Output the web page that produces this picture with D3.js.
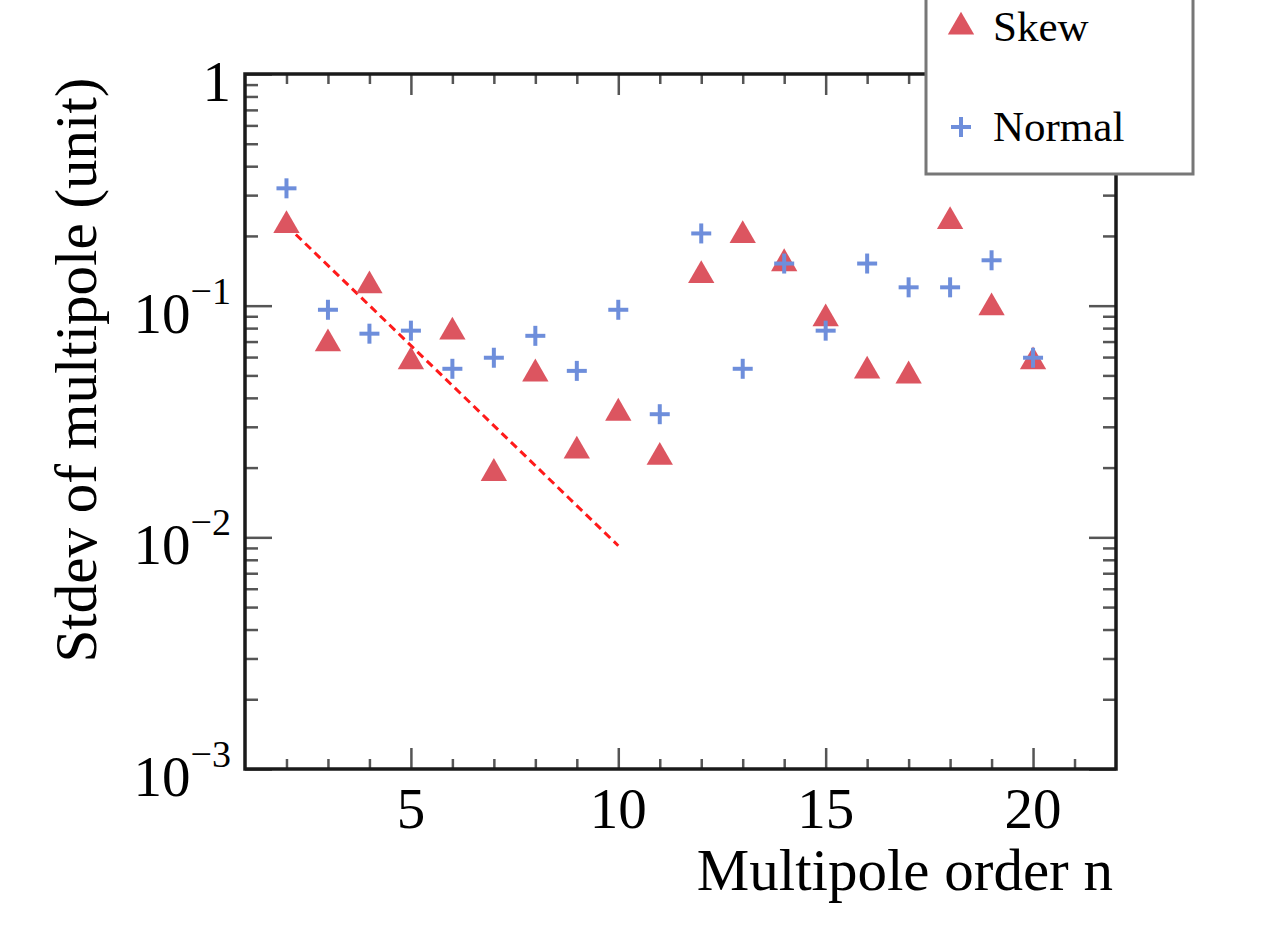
<!DOCTYPE html>
<html>
<head>
<meta charset="utf-8">
<script src="https://cdn.jsdelivr.net/npm/d3@7"></script>
<style>
  body { margin: 0; background: #fff; }
  svg text { font-family: "Liberation Serif", "DejaVu Serif", serif; fill: #000; }
</style>
</head>
<body>
<div id="chart"></div>
<script>
// multipole order
var orders = [2, 3, 4, 5, 6, 7, 8, 9, 10, 11, 12, 13, 14, 15, 16, 17, 18, 19, 20];
// stdev of skew multipoles
var skewValues = [0.222, 0.0685, 0.122, 0.0573, 0.077, 0.0189, 0.0508, 0.0236, 0.0344, 0.0222,
                  0.135, 0.201, 0.152, 0.0879, 0.0523, 0.0498, 0.231, 0.098, 0.0573];
// stdev of normal multipoles
var normalValues = [0.321, 0.096, 0.0757, 0.078, 0.0534, 0.0596, 0.0741, 0.0523, 0.096, 0.034,
                    0.205, 0.0534, 0.152, 0.078, 0.152, 0.12, 0.12, 0.157, 0.0596];
// fitted trend of skew, end points
var fitOrders = [2, 10];
var fitValues = [0.222, 0.0092];
var xTicks = [5, 10, 15, 20];
var yTicks = [0.001, 0.01, 0.1, 1];
var yTickExp = ["−3", "−2", "−1", ""];

var W = 1261, H = 925;
var frame = {left: 245, right: 1116, top: 74, bottom: 769};

var svg = d3.select("#chart").append("svg")
  .attr("width", W)
  .attr("height", H);

var x = d3.scaleLinear().domain([1, 22]).range([frame.left, frame.right]);
var y = d3.scaleLog().domain([0.001, 1]).range([frame.bottom, frame.top]);

var xMinor = d3.range(2, 22).filter(function(d) { return d % 5 !== 0; });
var yMinor = [];
[0.001, 0.01, 0.1].forEach(function(d) {
  for (var k = 2; k <= 9; k++) yMinor.push(d * k);
});

var tickColor = "#555";

function styleAxis(g) {
  g.select(".domain").remove();
  g.selectAll(".tick line").attr("stroke", tickColor).attr("stroke-width", 2.5);
  g.selectAll(".tick text").remove();
}

// ticks on all four sides, pointing inwards
svg.append("g").attr("transform", "translate(0," + frame.bottom + ")")
  .call(d3.axisBottom(x).tickValues(xTicks).tickSize(-21)).call(styleAxis);
svg.append("g").attr("transform", "translate(0," + frame.bottom + ")")
  .call(d3.axisBottom(x).tickValues(xMinor).tickSize(-10)).call(styleAxis);
svg.append("g").attr("transform", "translate(0," + frame.top + ")")
  .call(d3.axisTop(x).tickValues(xTicks).tickSize(-21)).call(styleAxis);
svg.append("g").attr("transform", "translate(0," + frame.top + ")")
  .call(d3.axisTop(x).tickValues(xMinor).tickSize(-10)).call(styleAxis);
svg.append("g").attr("transform", "translate(" + frame.left + ",0)")
  .call(d3.axisLeft(y).tickValues(yTicks).tickSize(-27)).call(styleAxis);
svg.append("g").attr("transform", "translate(" + frame.left + ",0)")
  .call(d3.axisLeft(y).tickValues(yMinor).tickSize(-13)).call(styleAxis);
svg.append("g").attr("transform", "translate(" + frame.right + ",0)")
  .call(d3.axisRight(y).tickValues(yTicks).tickSize(-27)).call(styleAxis);
svg.append("g").attr("transform", "translate(" + frame.right + ",0)")
  .call(d3.axisRight(y).tickValues(yMinor).tickSize(-13)).call(styleAxis);

// frame
svg.append("rect")
  .attr("x", frame.left).attr("y", frame.top)
  .attr("width", frame.right - frame.left).attr("height", frame.bottom - frame.top)
  .attr("fill", "none").attr("stroke", "#1a1a1a").attr("stroke-width", 3.5);

// x tick labels
svg.append("g").selectAll("text")
  .data(xTicks).enter().append("text")
  .attr("x", function(d) { return x(d); })
  .attr("y", frame.bottom + 59)
  .attr("text-anchor", "middle")
  .style("font-size", "57px")
  .text(function(d) { return d; });

// y tick labels with superscripts
var yLab = svg.append("g").selectAll("text")
  .data(yTicks).enter().append("text")
  .attr("x", 231)
  .attr("y", function(d) { return y(d) + 27; })
  .attr("text-anchor", "end")
  .style("font-size", "57px");
yLab.append("tspan").text(function(d) { return d === 1 ? "1" : "10"; });
yLab.append("tspan")
  .attr("dy", -29)
  .style("font-size", "38px")
  .text(function(d, i) { return yTickExp[i]; });

// axis titles
svg.append("text")
  .attr("x", frame.right - 3).attr("y", 890)
  .attr("text-anchor", "end")
  .style("font-size", "59px")
  .text("Multipole order n");
svg.append("text")
  .attr("transform", "translate(96," + 370 + ") rotate(-90)")
  .attr("text-anchor", "middle")
  .style("font-size", "59px")
  .text("Stdev of multipole (unit)");

var red = "#dc5560", blue = "#6e8edb";
var tri = d3.symbol().type(d3.symbolTriangle).size(300);

// fit line
svg.append("path")
  .datum(d3.zip(fitOrders, fitValues))
  .attr("fill", "none")
  .attr("stroke", "#ff1a1a")
  .attr("stroke-width", 3)
  .attr("stroke-dasharray", "8,5")
  .attr("d", d3.line().x(function(d) { return x(d[0]); }).y(function(d) { return y(d[1]); }));

// skew markers
svg.append("g").selectAll("path")
  .data(d3.zip(orders, skewValues)).enter().append("path")
  .attr("transform", function(d) { return "translate(" + x(d[0]) + "," + y(d[1]) + ")"; })
  .attr("d", tri)
  .attr("fill", red);

// normal markers
function cross(g) {
  g.append("line").attr("x1", -10).attr("x2", 10).attr("y1", 0).attr("y2", 0);
  g.append("line").attr("x1", 0).attr("x2", 0).attr("y1", -10).attr("y2", 10);
}
svg.append("g").selectAll("g")
  .data(d3.zip(orders, normalValues)).enter().append("g")
  .attr("transform", function(d) { return "translate(" + x(d[0]) + "," + y(d[1]) + ")"; })
  .attr("stroke", blue).attr("stroke-width", 4)
  .each(function() { cross(d3.select(this)); });

// legend
var leg = svg.append("g");
leg.append("rect")
  .attr("x", 926).attr("y", -10).attr("width", 267).attr("height", 184)
  .attr("fill", "#fff").attr("stroke", "#777").attr("stroke-width", 3);
leg.append("path").attr("transform", "translate(961,27)").attr("d", tri).attr("fill", red);
leg.append("text").attr("x", 993).attr("y", 41).style("font-size", "43px").text("Skew");
var lc = leg.append("g").attr("transform", "translate(961,127)")
  .attr("stroke", blue).attr("stroke-width", 4);
cross(lc);
leg.append("text").attr("x", 993).attr("y", 141).style("font-size", "43px").text("Normal");
</script>
</body>
</html>
